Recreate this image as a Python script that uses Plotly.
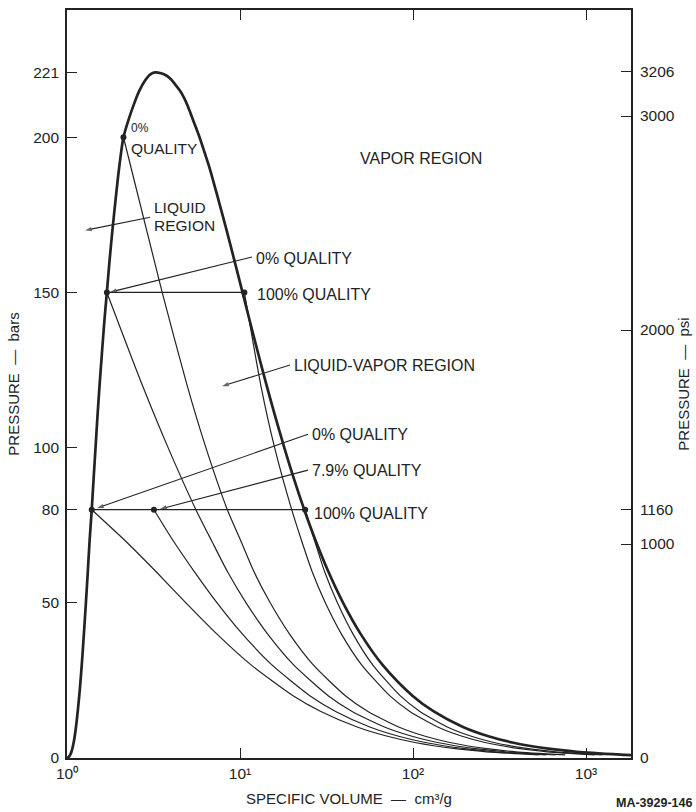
import math
import plotly.graph_objects as go

# ---------------- data ----------------
# saturation dome: specific volume (cm3/g) vs pressure (bars)
dome_v = [1.000, 1.010, 1.030, 1.043, 1.061, 1.093, 1.127, 1.177, 1.217, 1.252, 1.286, 1.319, 1.351,
          1.390, 1.425, 1.462, 1.500, 1.542, 1.590, 1.640, 1.700, 1.760, 1.830, 1.910, 2.000, 2.120,
          2.280, 2.450, 2.620, 2.820, 3.020, 3.230, 3.500, 3.750, 4.000, 4.250, 4.500, 4.750, 4.994,
          5.400, 5.834, 6.250, 6.680, 7.490, 8.370, 9.310, 10.34, 11.49, 12.78, 14.26, 15.99, 18.03,
          20.48, 23.52, 27.37, 32.44, 39.44, 49.78, 66.68, 99.63, 131.8, 194.4, 272.9, 374.9, 605.8,
          885.7, 1694, 1820]
dome_p = [0, 0.1, 0.5, 1, 2, 5, 10, 20, 30, 40, 50, 60, 70,
          80, 90, 100, 110, 120, 130, 140, 150, 160, 170, 180, 190, 200,
          206, 211, 215, 218.2, 220.2, 220.9, 220.6, 219.9, 218.6, 216.8, 215.0, 212.7, 210,
          205, 200, 195, 190, 180, 170, 160, 150, 140, 130, 120, 110, 100,
          90, 80, 70, 60, 50, 40, 30, 20, 15, 10, 7, 5, 3,
          2, 1, 0.9]

# expansion lines from the marked states
exp_p = [150, 120, 100, 80, 70, 60, 50, 40, 30, 20, 15, 10, 7, 5, 3, 2, 1]

l200_v = [2.12, 3.55, 4.95, 6.35, 8.45, 10.1, 12.05, 14.95, 19.30, 26.5, 40.8, 54.9, 82.6, 117.6,
          163.3, 267.3, 393.7, 758.9]
l200_p = [200] + exp_p

l150a_v = [1.70, 2.73, 3.84, 5.56, 6.85, 8.47, 10.84, 14.42, 20.42, 32.47, 44.47, 68.32, 98.66,
           138.5, 229.9, 341.6, 666.9]
l150a_p = exp_p

l150b_v = [10.6, 13.2, 15.85, 19.9, 22.7, 26.14, 31.14, 38.51, 50.46, 73.56, 95.86, 138.9, 192.3,
           261.0, 414.6, 598.4, 1121]
l150b_p = exp_p

l80a_v = [1.390, 2.171, 3.277, 4.868, 7.337, 11.59, 20.37, 29.35, 47.54, 71.12, 102.5, 175.5,
          266.1, 533.3]
l80a_p = exp_p[3:]

l79_v = [3.18, 4.11, 5.455, 7.371, 10.31, 15.29, 25.45, 35.70, 56.26, 82.67, 117.6, 198.3, 297.7,
         589.3]
l79_p = exp_p[3:]

l80b_v = [23.8, 27.0, 30.85, 36.56, 44.93, 58.47, 84.51, 109.6, 157.8, 217.3, 293.7, 463.8, 666.9,
          1242]
l80b_p = exp_p[3:]

# constant-pressure tie lines
tie150_v = [1.70, 10.6]
tie150_p = [150, 150]
tie80_v = [1.390, 23.8]
tie80_p = [80, 80]

# marked state points
pts_v = [2.12, 1.70, 10.6, 1.390, 3.18, 23.8]
pts_p = [200, 150, 150, 80, 80, 80]

# leader arrows (tail -> head)
arrows = [  # (tail_v, tail_p, head_v, head_p)
    (3.02, 174.2, 1.271, 170.0),
    (11.73, 161.4, 1.772, 150.1),
    (19.45, 126.6, 7.87, 119.8),
    (24.7, 104.3, 1.491, 80.5),
    (24.7, 92.75, 3.448, 80.2),
]

# axes ticks
p_ticks = [0, 50, 80, 100, 150, 200, 221]
psi_ticks = [0, 1000, 1160, 2000, 3000, 3206]
v_ticks = [1, 10, 100, 1000]
v_ticktext = ['10⁰', '10¹', '10²', '10³']
P_MAX = 241
PSI_PER_BAR = 14.5038

# ---------------- figure ----------------
INK = '#232323'
FONT = 'Liberation Sans, Arial, sans-serif'
L = math.log10

fig = go.Figure()

def line(v, p, w, shape='spline', smoothing=0.6):
    fig.add_trace(go.Scatter(x=v, y=p, mode='lines',
                             line=dict(color=INK, width=w, shape=shape, smoothing=smoothing),
                             hoverinfo='skip', showlegend=False))

for v, p in [(l200_v, l200_p), (l150a_v, l150a_p), (l80a_v, l80a_p), (l79_v, l79_p),
             (l150b_v, l150b_p), (l80b_v, l80b_p)]:
    line(v, p, 1.2)
line(tie150_v, tie150_p, 1.3, 'linear')
line(tie80_v, tie80_p, 1.3, 'linear')
line(dome_v, dome_p, 2.7, smoothing=0.8)

for tv, tp, hv, hp in arrows:
    fig.add_trace(go.Scatter(x=[tv, hv], y=[tp, hp], mode='lines+markers',
                             line=dict(color=INK, width=1.1),
                             marker=dict(symbol='arrow', size=[0, 7], angleref='previous', color=INK,
                                         line=dict(width=0)),
                             hoverinfo='skip', showlegend=False))

fig.add_trace(go.Scatter(x=pts_v, y=pts_p, mode='markers', marker=dict(color=INK, size=6),
                         hoverinfo='skip', showlegend=False))
# invisible trace carrying the psi axis
fig.add_trace(go.Scatter(x=[1], y=[0], yaxis='y2', mode='markers', marker=dict(opacity=0),
                         hoverinfo='skip', showlegend=False))

ann = []
def text(t, v, p, size=16):
    ann.append(dict(text=t, x=L(v), y=p, xref='x', yref='y', showarrow=False, xanchor='left',
                    yanchor='middle', align='left', font=dict(family=FONT, size=size, color=INK)))

text('0%', 2.282, 202.9, size=12)
text('QUALITY', 2.282, 196.5, size=15.5)
text('LIQUID', 3.099, 177.5, size=15.5)
text('REGION', 3.099, 171.7, size=15.5)
text('VAPOR REGION', 48.1, 193.2)
text('0% QUALITY', 12.05, 161.0)
text('100% QUALITY', 12.21, 149.4)
text('LIQUID-VAPOR REGION', 19.98, 126.6)
text('0% QUALITY', 25.39, 104.3)
text('7.9% QUALITY', 25.39, 92.75)
text('100% QUALITY', 26.08, 78.9)

W, H = 696, 812
ml, mr, mt, mb = 67, 65, 10, 54
pw, ph = W - ml - mr, H - mt - mb
ann.append(dict(text='<b>MA-3929-146</b>', x=(694 - ml) / pw, y=(H - mb - 803) / ph,
                xref='paper', yref='paper', showarrow=False, xanchor='right', yanchor='middle',
                font=dict(family=FONT, size=12.5, color=INK)))

axis_common = dict(ticks='inside', ticklen=10, tickwidth=1.4, tickcolor=INK, showline=True,
                   linecolor=INK, linewidth=1.6, showgrid=False, zeroline=False,
                   tickfont=dict(family=FONT, size=15.5, color=INK))

fig.update_layout(
    width=W, height=H, margin=dict(l=ml, r=mr, t=mt, b=mb, autoexpand=False),
    paper_bgcolor='white', plot_bgcolor='white',
    font=dict(family=FONT, size=14, color=INK),
    annotations=ann,
    xaxis=dict(type='log', range=[0, 3.26], tickvals=v_ticks, ticktext=v_ticktext, mirror='ticks',
               ticklabelstandoff=1, **axis_common,
               title=dict(text='SPECIFIC VOLUME  —  cm³/g', font=dict(size=15), standoff=12)),
    yaxis=dict(range=[0, P_MAX], tickvals=p_ticks, ticklabelstandoff=3, **axis_common,
               title=dict(text='PRESSURE  —  bars', font=dict(size=15), standoff=10)),
    yaxis2=dict(range=[0, P_MAX * PSI_PER_BAR], tickvals=psi_ticks, overlaying='y', side='right',
                ticklabelstandoff=4, **axis_common,
                title=dict(text='PRESSURE  —  psi', font=dict(size=15), standoff=5)),
)

fig.write_html('out.html', config={'displayModeBar': False},
               post_script="document.body.style.margin='0';")
